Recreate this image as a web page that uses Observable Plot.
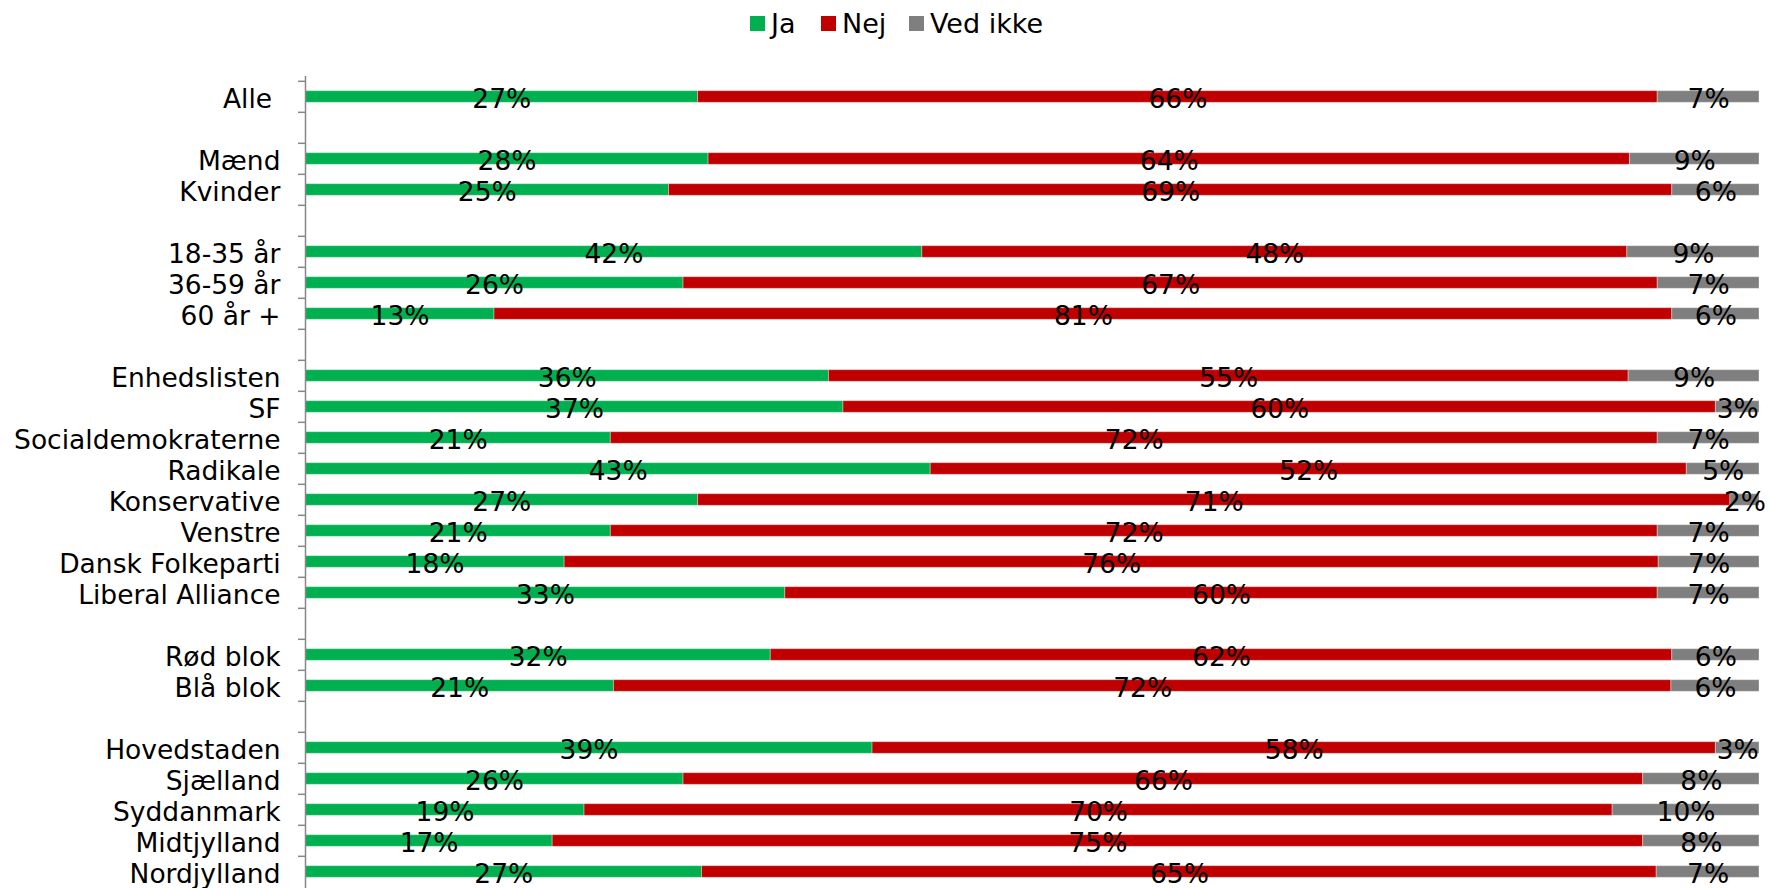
<!DOCTYPE html>
<html>
<head>
<meta charset="utf-8">
<script src="https://cdn.jsdelivr.net/npm/d3@7"></script>
<script src="https://cdn.jsdelivr.net/npm/@observablehq/plot@0.6"></script>
<style>
  html, body { margin: 0; padding: 0; background: white; overflow: hidden; }
  body { width: 1769px; height: 888px; font-family: 'DejaVu Sans', Verdana, sans-serif; }
  #legend { position: relative; height: 60px; font-size: 27px; color: #000; }
  #legend .sw { position: absolute; top: 16px; width: 15px; height: 15px; }
  #legend .lbl { position: absolute; top: 23px; transform: translateY(-50%); line-height: 1; white-space: nowrap; }
</style>
</head>
<body>
<div id="legend"></div>
<div id="chart"></div>
<script>
const categories = ["Alle\u00a0", "Mænd", "Kvinder", "18-35 år", "36-59 år", "60 år +",
  "Enhedslisten", "SF", "Socialdemokraterne", "Radikale", "Konservative", "Venstre",
  "Dansk Folkeparti", "Liberal Alliance", "Rød blok", "Blå blok",
  "Hovedstaden", "Sjælland", "Syddanmark", "Midtjylland", "Nordjylland"];
const groupSizes = [1, 2, 3, 8, 2, 5];
const ja      = [27, 28, 25, 42, 26, 13, 36, 37, 21, 43, 27, 21, 18, 33, 32, 21, 39, 26, 19, 17, 27];
const nej     = [66, 64, 69, 48, 67, 81, 55, 60, 72, 52, 71, 72, 76, 60, 62, 72, 58, 66, 70, 75, 65];
const vedIkke = [ 7,  9,  6,  9,  7,  6,  9,  3,  7,  5,  2,  7,  7,  7,  6,  6,  3,  8, 10,  8,  7];
const answers = ["Ja", "Nej", "Ved ikke"];
const colors = ["#00B050", "#C00000", "#7F7F7F"];

// row order with blank separator rows between groups
const rowDomain = [];
const gaps = new Set();
let k = 0;
groupSizes.forEach((n, g) => {
  for (let i = 0; i < n; i++) rowDomain.push(categories[k++]);
  if (g < groupSizes.length - 1) { const key = "gap" + g; gaps.add(key); rowDomain.push(key); }
});

const series = [ja, nej, vedIkke];
const data = categories.flatMap((c, i) => answers.map((a, j) => ({cat: c, answer: a, value: series[j][i]})));

const W = 1769, H = 831, MT = 16, MB = 0, ML = 305, MR = 10;
const step = (H - MT - MB) / rowDomain.length;
const barH = 12;
const inset = (step - barH) / 2;
const axisColor = "#878787";
const FS = 26.5;

const chart = Plot.plot({
  width: W, height: H,
  marginTop: MT, marginBottom: MB, marginLeft: ML, marginRight: MR,
  x: {domain: [0, 1], axis: null},
  y: {domain: rowDomain, padding: 0, axis: null},
  color: {domain: answers, range: colors},
  style: {fontFamily: "'DejaVu Sans', Verdana, sans-serif", fontSize: FS + "px", color: "black", background: "white", overflow: "visible"},
  marks: [
    Plot.barX(data, Plot.stackX({x: "value", y: "cat", z: "answer", fill: "answer", order: answers, offset: "normalize",
      insetTop: inset, insetBottom: inset, stroke: "white", strokeOpacity: 0.35, strokeWidth: 1})),
    Plot.ruleX([0], {stroke: axisColor, strokeWidth: 1.5}),
    Plot.ruleY(rowDomain, {y: d => d, x1: 0, x2: 0, insetLeft: -7, dy: -step / 2, stroke: axisColor, strokeWidth: 1.5}),
    Plot.text(data, Plot.stackX({x: "value", y: "cat", z: "answer", order: answers, offset: "normalize",
      text: d => d.value + "%", fontSize: FS, dy: 3, fill: "black"})),
    Plot.axisY({tickSize: 0, tickPadding: 25, tickFormat: d => gaps.has(d) ? "" : d, fontSize: FS, dy: 3, fill: "black", label: null})
  ]
});
document.getElementById("chart").appendChild(chart);

// legend (positions are layout only)
const legendSquareX = [750, 821, 909];
const legend = document.getElementById("legend");
answers.forEach((a, i) => {
  const sw = document.createElement("div");
  sw.className = "sw";
  sw.style.left = legendSquareX[i] + "px";
  sw.style.background = colors[i];
  const t = document.createElement("div");
  t.className = "lbl";
  t.style.left = (legendSquareX[i] + 21) + "px";
  t.textContent = a;
  legend.appendChild(sw); legend.appendChild(t);
});
</script>
</body>
</html>
